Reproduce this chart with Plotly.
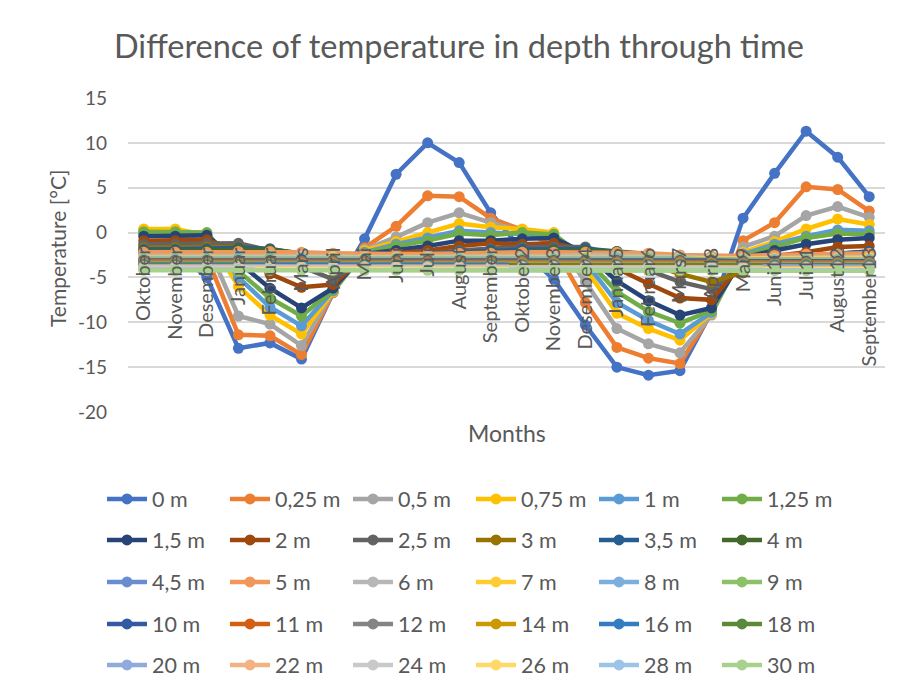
import plotly.graph_objects as go

months = ["Oktober", "November", "Desember", "Januar", "Februar", "Mars", "April",
          "Mai", "Juni", "Juli", "August", "September", "Oktober2", "November3",
          "Desember4", "Januar5", "Februar6", "Mars7", "April8", "Mai9", "Juni10",
          "Juli11", "August12", "September13"]

depth_names = ["0 m", "0,25 m", "0,5 m", "0,75 m", "1 m", "1,25 m",
               "1,5 m", "2 m", "2,5 m", "3 m", "3,5 m", "4 m",
               "4,5 m", "5 m", "6 m", "7 m", "8 m", "9 m",
               "10 m", "11 m", "12 m", "14 m", "16 m", "18 m",
               "20 m", "22 m", "24 m", "26 m", "28 m", "30 m"]

colors = ["#4472C4", "#ED7D31", "#A5A5A5", "#FFC000", "#5B9BD5", "#70AD47",
          "#264478", "#9E480E", "#636363", "#997300", "#255E91", "#43682B",
          "#698ED0", "#F1975A", "#B7B7B7", "#FFCD33", "#7CAFDD", "#8CC168",
          "#335AA1", "#D26012", "#848484", "#CC9A00", "#327DC2", "#5A8A39",
          "#8FAADC", "#F4B183", "#C9C9C9", "#FFD966", "#9DC3E6", "#A9D18E"]

d_0 = [-1.5, -2.0, -5.0, -12.9, -12.3, -14.1, -6.7, -0.7, 6.5, 10.0, 7.8, 2.2,
       -2.0, -5.2, -10.3, -15.0, -15.9, -15.4, -8.8, 1.6, 6.6, 11.3, 8.4, 4.0]
d_025 = [0.3, 0.3, -2.7, -11.4, -11.5, -13.6, -6.7, -1.7, 0.7, 4.1, 4.0, 1.6,
         0.3, -1.5, -7.8, -12.8, -14.0, -14.6, -9.0, -0.9, 1.1, 5.1, 4.8, 2.4]
d_05 = [0.2, 0.2, -1.3, -9.3, -10.2, -12.6, -6.6, -1.9, -0.5, 1.1, 2.2, 1.1,
        0.2, -0.5, -5.5, -10.7, -12.4, -13.4, -9.2, -1.6, -0.4, 1.9, 2.9, 1.7]
d_075 = [0.4, 0.4, -0.3, -6.0, -9.2, -11.3, -6.6, -2.0, -1.0, 0.0, 1.0, 0.6,
         0.4, 0.0, -4.0, -9.0, -10.7, -12.0, -9.0, -2.2, -1.0, 0.4, 1.5, 0.9]
d_1 = [-0.1, -0.1, -0.3, -5.0, -8.3, -10.4, -6.5, -2.2, -1.3, -0.6, 0.2, 0.0,
       -0.1, -0.3, -3.3, -7.8, -9.8, -11.3, -8.9, -2.4, -1.3, -0.4, 0.3, 0.2]
d_125 = [0.1, 0.1, 0.0, -4.3, -7.3, -9.3, -6.4, -2.3, -1.5, -0.9, -0.1, -0.3,
         0.0, -0.2, -2.8, -6.6, -8.8, -10.1, -8.7, -2.6, -1.6, -0.6, -0.1, -0.2]
d_15 = [-0.4, -0.4, -0.3, -3.3, -6.2, -8.4, -6.2, -2.4, -2.0, -1.5, -0.9, -0.9,
        -0.7, -0.6, -2.3, -5.4, -7.6, -9.2, -8.4, -2.8, -2.0, -1.3, -0.8, -0.6]
d_2 = [-0.9, -0.9, -0.8, -2.0, -4.6, -6.1, -5.8, -2.6, -2.3, -2.0, -1.5, -1.2,
       -1.3, -1.2, -2.0, -4.0, -5.7, -7.3, -7.5, -3.3, -2.6, -2.2, -1.6, -1.5]
d_25 = [-1.3, -1.3, -1.2, -1.2, -2.0, -3.8, -5.2, -3.0, -2.6, -2.4, -2.0, -1.8,
        -1.6, -1.6, -1.6, -2.6, -4.2, -5.5, -6.3, -3.6, -3.0, -2.6, -2.4, -2.1]
d_3 = [-1.7, -1.7, -1.6, -1.6, -2.3, -3.4, -4.2, -3.5, -2.9, -2.7, -2.4, -2.2,
       -2.0, -1.9, -1.9, -2.4, -3.5, -4.6, -5.5, -4.5, -3.4, -2.9, -2.6, -2.4]
d_35 = [-1.9, -1.9, -1.8, -1.7, -1.8, -2.4, -3.0, -2.9, -2.6, -2.4, -2.2, -2.0,
        -1.9, -1.9, -1.8, -2.1, -2.6, -3.3, -3.9, -3.6, -3.0, -2.6, -2.3, -2.1]
d_4 = [-2.1, -2.1, -2.0, -1.9, -1.9, -2.3, -2.8, -2.8, -2.7, -2.5, -2.3, -2.2,
       -2.1, -2.0, -2.0, -2.1, -2.4, -2.9, -3.4, -3.4, -3.0, -2.7, -2.5, -2.3]
d_45 = [-2.4, -2.4, -2.3, -2.2, -2.2, -2.4, -2.7, -2.8, -2.7, -2.6, -2.5, -2.4,
        -2.4, -2.3, -2.3, -2.3, -2.4, -2.7, -3.0, -3.1, -3.0, -2.8, -2.6, -2.5]
d_5 = [-2.2, -2.2, -2.2, -2.1, -2.1, -2.2, -2.3, -2.4, -2.4, -2.4, -2.3, -2.3,
       -2.2, -2.2, -2.2, -2.2, -2.3, -2.5, -2.6, -2.6, -2.5, -2.4, -2.4, -2.3]
d_6 = [-2.6, -2.6, -2.5, -2.5, -2.5, -2.5, -2.6, -2.7, -2.7, -2.7, -2.6, -2.6,
       -2.6, -2.6, -2.5, -2.5, -2.6, -2.7, -2.8, -2.9, -2.8, -2.8, -2.7, -2.7]
d_7 = [-2.8, -2.8, -2.7, -2.7, -2.7, -2.7, -2.7, -2.8, -2.8, -2.8, -2.8, -2.8,
       -2.8, -2.8, -2.7, -2.7, -2.7, -2.8, -2.9, -2.9, -2.9, -2.9, -2.9, -2.8]
d_8 = [-2.9, -2.9, -2.9, -2.8, -2.8, -2.8, -2.9, -2.9, -2.9, -2.9, -2.9, -2.9,
       -2.9, -2.9, -2.9, -2.8, -2.8, -2.9, -3.0, -3.0, -3.0, -3.0, -3.0, -3.0]
d_9 = [-3.0, -3.0, -3.0, -3.0, -2.9, -2.9, -3.0, -3.0, -3.0, -3.0, -3.0, -3.0,
       -3.0, -3.0, -3.0, -3.0, -2.9, -3.0, -3.0, -3.1, -3.1, -3.1, -3.1, -3.1]
d_10 = [-3.1, -3.1, -3.1, -3.1, -3.1, -3.0, -3.1, -3.1, -3.1, -3.1, -3.1, -3.1,
        -3.1, -3.1, -3.1, -3.1, -3.1, -3.1, -3.1, -3.2, -3.2, -3.2, -3.2, -3.2]
d_11 = [-3.2, -3.2, -3.2, -3.2, -3.2, -3.2, -3.2, -3.2, -3.2, -3.2, -3.2, -3.2,
        -3.2, -3.2, -3.2, -3.2, -3.2, -3.2, -3.2, -3.3, -3.3, -3.3, -3.3, -3.3]
d_12 = [-3.3, -3.3, -3.3, -3.3, -3.3, -3.3, -3.3, -3.3, -3.3, -3.3, -3.3, -3.3,
        -3.3, -3.3, -3.3, -3.3, -3.3, -3.3, -3.3, -3.4, -3.4, -3.4, -3.4, -3.4]
d_14 = [-3.45, -3.45, -3.45, -3.45, -3.45, -3.45, -3.45, -3.45, -3.45, -3.45, -3.45, -3.45,
        -3.45, -3.45, -3.45, -3.45, -3.45, -3.45, -3.45, -3.5, -3.5, -3.5, -3.5, -3.5]
d_16 = [-3.55, -3.55, -3.55, -3.55, -3.55, -3.55, -3.55, -3.55, -3.55, -3.55, -3.55, -3.55,
        -3.55, -3.55, -3.55, -3.55, -3.55, -3.55, -3.55, -3.6, -3.6, -3.6, -3.6, -3.6]
d_18 = [-3.65, -3.65, -3.65, -3.65, -3.65, -3.65, -3.65, -3.65, -3.65, -3.65, -3.65, -3.65,
        -3.65, -3.65, -3.65, -3.65, -3.65, -3.65, -3.65, -3.7, -3.7, -3.7, -3.7, -3.7]
d_20 = [-3.75, -3.75, -3.75, -3.75, -3.75, -3.75, -3.75, -3.75, -3.75, -3.75, -3.75, -3.75,
        -3.75, -3.75, -3.75, -3.75, -3.75, -3.75, -3.75, -3.8, -3.8, -3.8, -3.8, -3.8]
d_22 = [-3.85, -3.85, -3.85, -3.85, -3.85, -3.85, -3.85, -3.85, -3.85, -3.85, -3.85, -3.85,
        -3.85, -3.85, -3.85, -3.85, -3.85, -3.85, -3.85, -3.9, -3.9, -3.9, -3.9, -3.9]
d_24 = [-3.95, -3.95, -3.95, -3.95, -3.95, -3.95, -3.95, -3.95, -3.95, -3.95, -3.95, -3.95,
        -3.95, -3.95, -3.95, -3.95, -3.95, -3.95, -3.95, -4.0, -4.0, -4.0, -4.0, -4.0]
d_26 = [-4.05, -4.05, -4.05, -4.05, -4.05, -4.05, -4.05, -4.05, -4.05, -4.05, -4.05, -4.05,
        -4.05, -4.05, -4.05, -4.05, -4.05, -4.05, -4.05, -4.1, -4.1, -4.1, -4.1, -4.1]
d_28 = [-4.1, -4.1, -4.1, -4.1, -4.1, -4.1, -4.1, -4.1, -4.1, -4.1, -4.1, -4.1,
        -4.1, -4.1, -4.1, -4.1, -4.1, -4.1, -4.1, -4.15, -4.15, -4.15, -4.15, -4.15]
d_30 = [-4.2, -4.2, -4.2, -4.2, -4.2, -4.2, -4.2, -4.2, -4.2, -4.2, -4.2, -4.2,
        -4.2, -4.2, -4.2, -4.2, -4.2, -4.2, -4.2, -4.25, -4.25, -4.25, -4.25, -4.25]

series = [d_0, d_025, d_05, d_075, d_1, d_125, d_15, d_2, d_25, d_3, d_35, d_4,
          d_45, d_5, d_6, d_7, d_8, d_9, d_10, d_11, d_12, d_14, d_16, d_18,
          d_20, d_22, d_24, d_26, d_28, d_30]

y_tick_vals = [15, 10, 5, 0, -5, -10, -15, -20]
y_tick_text = ["15", "10", "5", "0", "-5", "-10", "-15", "-20"]

FONT = "Lato"
GREY = "#595959"

fig = go.Figure()
legend_ids = ["legend", "legend2", "legend3", "legend4", "legend5"]
for i, (name, vals, col) in enumerate(zip(depth_names, series, colors)):
    fig.add_trace(go.Scatter(
        x=months, y=vals, name=name, mode="lines+markers",
        line=dict(color=col, width=4.5),
        marker=dict(color=col, size=11),
        legend=legend_ids[i // 6],
    ))

# plot area geometry (pixels)
W, H = 900, 698
L, R, T, B = 128, 15, 98, 286
ph = H - T - B
pw = W - L - R

layout_legends = {}
row_centers = [499, 540, 582, 624, 665]
for k, lid in enumerate(legend_ids):
    layout_legends[lid] = dict(
        orientation="h", entrywidth=68, entrywidthmode="pixels",
        x=(102 - L) / pw, xanchor="left",
        y=(H - B - row_centers[k]) / ph, yanchor="middle",
        font=dict(family=FONT, size=21.5, color=GREY),
        bgcolor="rgba(0,0,0,0)", itemwidth=40, tracegroupgap=0,
    )

fig.update_layout(
    width=W, height=H,
    margin=dict(l=L, r=R, t=T, b=B, pad=0, autoexpand=False),
    paper_bgcolor="white", plot_bgcolor="white",
    font=dict(family=FONT, color=GREY),
    title=dict(text="Difference of temperature in depth through time",
               x=(459) / W, xanchor="center", y=1 - 47 / H, yanchor="middle",
               font=dict(family=FONT, size=32.5, color=GREY)),
    showlegend=True,
    **layout_legends,
)

fig.update_xaxes(
    type="category", range=[-0.5, len(months) - 0.5],
    anchor="free", position=(0 - (-20)) / 35,
    showgrid=False, zeroline=False, showline=False,
    tickangle=-90, ticks="", ticklabelstandoff=10,
    tickfont=dict(family=FONT, size=20, color=GREY),
)
fig.update_yaxes(
    range=[-20, 15], tickvals=y_tick_vals, ticktext=y_tick_text,
    showgrid=True, gridcolor="#D9D9D9", gridwidth=1.5,
    zeroline=False, showline=False, ticks="", ticklabelstandoff=20,
    tickfont=dict(family=FONT, size=19, color=GREY),
)

fig.add_annotation(text="Months", xref="paper", yref="paper",
                   x=0.5, y=(H - B - 433) / ph, xanchor="center", yanchor="middle",
                   showarrow=False, font=dict(family=FONT, size=23, color=GREY))
fig.add_annotation(text="Temperature [°C]", xref="paper", yref="paper",
                   x=(57 - L) / pw, y=(H - B - 249) / ph, xanchor="center", yanchor="middle",
                   textangle=-90, showarrow=False,
                   font=dict(family=FONT, size=21, color=GREY))

fig.write_html("out.html")
